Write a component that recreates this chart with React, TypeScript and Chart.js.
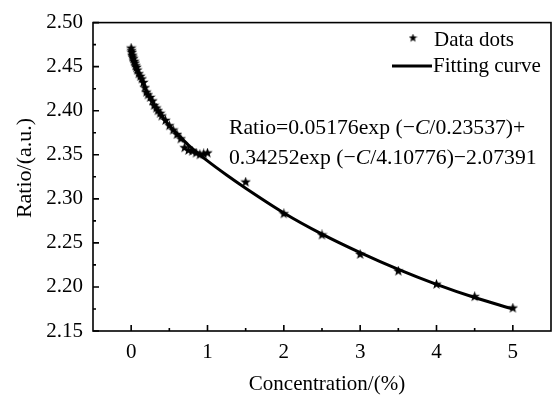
import React, { useEffect, useRef } from "react";
import { Chart, registerables } from "chart.js";

Chart.register(...registerables);

// Measured data dots
const dotX = [0, 0.005, 0.01, 0.015, 0.02, 0.03, 0.04, 0.05, 0.06, 0.07, 0.08, 0.1, 0.12, 0.14, 0.16, 0.18, 0.2, 0.22, 0.25, 0.28, 0.3, 0.33, 0.35, 0.38, 0.4, 0.45, 0.5, 0.55, 0.6, 0.65, 0.7, 0.75, 0.8, 0.85, 0.9, 0.95, 1.0, 1.5, 2, 2.5, 3, 3.5, 4, 4.5, 5];
const dotY = [2.471, 2.468, 2.466, 2.463, 2.461, 2.459, 2.456, 2.454, 2.451, 2.449, 2.446, 2.442, 2.439, 2.436, 2.432, 2.426, 2.421, 2.418, 2.415, 2.411, 2.406, 2.403, 2.400, 2.397, 2.394, 2.389, 2.383, 2.378, 2.373, 2.368, 2.358, 2.355, 2.354, 2.352, 2.350, 2.351, 2.352, 2.319, 2.283, 2.259, 2.237, 2.218, 2.203, 2.189, 2.176];

// Fitting curve
const fitX = [0, 0.02, 0.05, 0.1, 0.15, 0.2, 0.25, 0.3, 0.35, 0.4, 0.5, 0.6, 0.75, 1, 1.25, 1.5, 2, 2.5, 3, 3.5, 4, 4.5, 5];
const fitY = [2.468, 2.462, 2.454, 2.442, 2.432, 2.422, 2.414, 2.407, 2.400, 2.394, 2.383, 2.374, 2.361, 2.343, 2.327, 2.312, 2.284, 2.260, 2.239, 2.220, 2.203, 2.188, 2.175];

const xTicks = [0, 1, 2, 3, 4, 5];
const xMinor = [0.5, 1.5, 2.5, 3.5, 4.5];
const yTicks = [2.15, 2.2, 2.25, 2.3, 2.35, 2.4, 2.45, 2.5];
const yMinor = [2.175, 2.225, 2.275, 2.325, 2.375, 2.425, 2.475];

const xTitle = "Concentration/(%)";
const yTitle = "Ratio/(a.u.)";
const legendDots = "Data dots";
const legendCurve = "Fitting curve";
const formula1 = ["Ratio=0.05176exp (\u2212", "C", "/0.23537)+"];
const formula2 = ["0.34252exp (\u2212", "C", "/4.10776)\u22122.07391"];

const FONT = "'Liberation Serif', 'Times New Roman', serif";

function makeStar(size: number): HTMLCanvasElement {
  const c = document.createElement("canvas");
  c.width = size;
  c.height = size;
  const ctx = c.getContext("2d")!;
  const cx = size / 2, cy = size / 2;
  const R = size / 2, r = R * 0.42;
  ctx.beginPath();
  for (let i = 0; i < 10; i++) {
    const a = -Math.PI / 2 + (i * Math.PI) / 5;
    const rr = i % 2 === 0 ? R : r;
    const px = cx + rr * Math.cos(a), py = cy + rr * Math.sin(a);
    if (i === 0) ctx.moveTo(px, py); else ctx.lineTo(px, py);
  }
  ctx.closePath();
  ctx.fillStyle = "#000";
  ctx.fill();
  return c;
}

export default function App() {
  const ref = useRef<HTMLCanvasElement>(null);
  useEffect(() => {
    document.body.style.margin = "0";
    const star = makeStar(11);
    const legendStar = makeStar(9);

    const decor = {
      id: "decor",
      afterDraw(chart: any) {
        const ctx = chart.ctx;
        const { left, right, top, bottom } = chart.chartArea;
        const xs = chart.scales.x, ys = chart.scales.y;
        ctx.save();
        ctx.strokeStyle = "#000";
        ctx.lineWidth = 1.6;
        ctx.strokeRect(left, top, right - left, bottom - top);
        ctx.lineWidth = 1.6;
        ctx.beginPath();
        xTicks.forEach((v) => { const p = xs.getPixelForValue(v); ctx.moveTo(p, bottom); ctx.lineTo(p, bottom - 6); });
        xMinor.forEach((v) => { const p = xs.getPixelForValue(v); ctx.moveTo(p, bottom); ctx.lineTo(p, bottom - 3); });
        yTicks.forEach((v) => { const p = ys.getPixelForValue(v); ctx.moveTo(left, p); ctx.lineTo(left + 6, p); });
        yMinor.forEach((v) => { const p = ys.getPixelForValue(v); ctx.moveTo(left, p); ctx.lineTo(left + 3, p); });
        ctx.stroke();

        ctx.fillStyle = "#000";
        ctx.font = `21px ${FONT}`;
        ctx.textBaseline = "middle";
        ctx.textAlign = "center";
        ctx.fillText(xTitle, 327, 384);
        ctx.save();
        ctx.translate(25, 168);
        ctx.rotate(-Math.PI / 2);
        ctx.font = `22px ${FONT}`;
        ctx.fillText(yTitle, 0, 0);
        ctx.restore();

        // legend
        ctx.textAlign = "left";
        ctx.drawImage(legendStar, 413 - 4.5, 38 - 4.5);
        ctx.fillText(legendDots, 434, 40);
        ctx.lineWidth = 3;
        ctx.beginPath();
        ctx.moveTo(392, 66);
        ctx.lineTo(432, 66);
        ctx.stroke();
        ctx.fillText(legendCurve, 433, 66);

        // formula
        ctx.textBaseline = "alphabetic";
        const drawLine = (parts: string[], x: number, y: number) => {
          let cx = x;
          parts.forEach((s, i) => {
            ctx.font = i === 1 ? `italic 21.7px ${FONT}` : `21.7px ${FONT}`;
            ctx.fillText(s, cx, y);
            cx += ctx.measureText(s).width;
          });
        };
        drawLine(formula1, 229, 134);
        drawLine(formula2, 229, 164);
        ctx.restore();
      },
    };

    const chart = new Chart(ref.current!, {
      type: "scatter",
      data: {
        datasets: [
          {
            label: legendCurve,
            data: fitX.map((x, i) => ({ x, y: fitY[i] })),
            showLine: true,
            borderColor: "#000",
            borderWidth: 3,
            pointRadius: 0,
            cubicInterpolationMode: "monotone",
          } as any,
          {
            label: legendDots,
            data: dotX.map((x, i) => ({ x, y: dotY[i] })),
            pointStyle: star as any,
            pointRadius: 5,
            backgroundColor: "#000",
            borderColor: "#000",
          },
        ],
      },
      options: {
        animation: false,
        responsive: false,
        events: [],
        layout: { padding: { left: 0, right: 9, top: 18, bottom: 0 } },
        plugins: { legend: { display: false }, tooltip: { enabled: false } },
        scales: {
          x: {
            type: "linear",
            min: -0.5,
            max: 5.5,
            grid: { display: false, drawTicks: false },
            border: { display: false },
            ticks: { color: "#000", font: { family: FONT, size: 21 }, padding: 9 },
            afterBuildTicks: (s: any) => { s.ticks = xTicks.map((v) => ({ value: v })); },
            afterFit: (s: any) => { s.height = 66; },
          },
          y: {
            type: "linear",
            min: 2.15,
            max: 2.5,
            grid: { display: false, drawTicks: false },
            border: { display: false },
            ticks: {
              color: "#000",
              font: { family: FONT, size: 21 },
              padding: 10,
              callback: (v: any) => Number(v).toFixed(2),
            },
            afterBuildTicks: (s: any) => { s.ticks = yTicks.map((v) => ({ value: v })); },
            afterFit: (s: any) => { s.width = 93; },
          },
        },
      },
      plugins: [decor],
    });
    return () => chart.destroy();
  }, []);
  return (
    <div style={{ width: 560, height: 397, background: "#fff" }}>
      <canvas ref={ref} width={560} height={397} style={{ display: "block" }} />
    </div>
  );
}
